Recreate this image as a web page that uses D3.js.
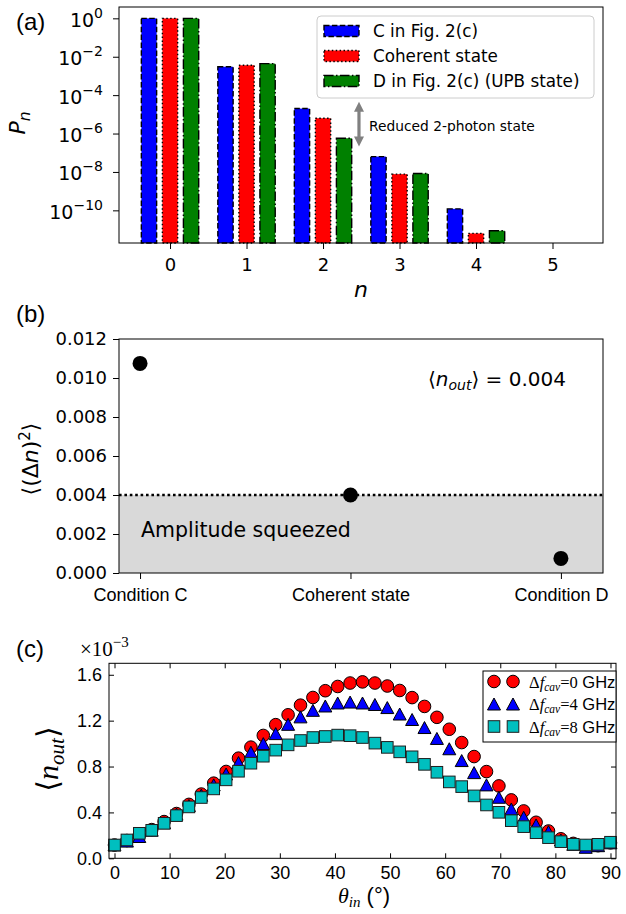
<!DOCTYPE html>
<html>
<head>
<meta charset="utf-8">
<script src="https://cdn.jsdelivr.net/npm/d3@7"></script>
<style>
  body { margin: 0; background: #fff; }
  svg { display: block; }
  .tick line { stroke: #000; }
  .domain { display: none; }
</style>
</head>
<body>
<div id="chart"></div>
<script>
// ---- panel (a): photon number distribution ----
const photonN = [0, 1, 2, 3, 4, 5];
const pnC = [0.996, 3.0e-3, 2.0e-5, 6.3e-8, 1.2e-10, 1e-13];
const pnCoherent = [0.996, 3.6e-3, 6.3e-6, 7.7e-9, 6.3e-12, 1e-15];
const pnUPB = [0.996, 4.4e-3, 5.7e-7, 8.3e-9, 8.7e-12, 1e-14];
const seriesNamesA = ["C in Fig. 2(c)", "Coherent state", "D in Fig. 2(c) (UPB state)"];
const logTicks = [1e0, 1e-2, 1e-4, 1e-6, 1e-8, 1e-10];

// ---- panel (b): photon number variance ----
const conditions = ["Condition C", "Coherent state", "Condition D"];
const variance = [0.01075, 0.0040, 0.00075];
const varTicks = [0, 0.002, 0.004, 0.006, 0.008, 0.010, 0.012];
const meanN = 0.004;

// ---- panel (c): <n_out> vs incident angle (x 1e-3) ----
const thetaIn = [0, 2.25, 4.5, 6.75, 9, 11.25, 13.5, 15.75, 18, 20.25, 22.5, 24.75, 27, 29.25,
  31.5, 33.75, 36, 38.25, 40.5, 42.75, 45, 47.25, 49.5, 51.75, 54, 56.25, 58.5, 60.75, 63,
  65.25, 67.5, 69.75, 72, 74.25, 76.5, 78.75, 81, 83.25, 85.5, 87.75, 90];
const nOut0 = [0.116, 0.155, 0.20, 0.25, 0.32, 0.39, 0.47, 0.56, 0.655, 0.757, 0.873, 0.969,
  1.071, 1.165, 1.251, 1.335, 1.402, 1.461, 1.498, 1.528, 1.538, 1.528, 1.502, 1.463, 1.401,
  1.324, 1.229, 1.125, 1.009, 0.887, 0.756, 0.631, 0.509, 0.413, 0.314, 0.238, 0.17, 0.13,
  0.105, 0.11, 0.135];
const nOut4 = [0.116, 0.15, 0.19, 0.245, 0.31, 0.385, 0.46, 0.55, 0.64, 0.735, 0.835, 0.925,
  1.0, 1.087, 1.168, 1.233, 1.29, 1.328, 1.354, 1.362, 1.354, 1.341, 1.314, 1.258, 1.21,
  1.14, 1.045, 0.955, 0.852, 0.747, 0.64, 0.532, 0.43, 0.358, 0.291, 0.232, 0.16, 0.122,
  0.096, 0.11, 0.135];
const nOut8 = [0.116, 0.160, 0.218, 0.244, 0.305, 0.372, 0.448, 0.530, 0.605, 0.684, 0.759,
  0.829, 0.890, 0.943, 0.989, 1.027, 1.053, 1.062, 1.074, 1.069, 1.053, 1.004, 0.967, 0.928,
  0.885, 0.819, 0.750, 0.666, 0.625, 0.544, 0.465, 0.401, 0.328, 0.276, 0.223, 0.180, 0.145,
  0.122, 0.116, 0.122, 0.140];
const detuning = ["0", "4", "8"];
const thetaTicks = [0, 10, 20, 30, 40, 50, 60, 70, 80, 90];
const nOutTicks = [0, 0.4, 0.8, 1.2, 1.6];

const SANS = "DejaVu Sans, sans-serif";
const ARIAL = "Liberation Sans, Arial, sans-serif";
const SERIF = "Liberation Serif, DejaVu Serif, serif";

const svg = d3.select("#chart").append("svg")
  .attr("width", 626).attr("height", 914);

function frame(g, x0, y0, x1, y1) {
  g.append("rect").attr("x", x0).attr("y", y0)
    .attr("width", x1 - x0).attr("height", y1 - y0)
    .attr("fill", "none").attr("stroke", "#000").attr("stroke-width", 1);
}

// ================= (a) =================
const A = {left: 119, right: 603, top: 7, bottom: 243};
const xa = d3.scaleLinear().domain([-0.667, 5.66]).range([A.left, A.right]);
const ya = d3.scaleLog().domain([Math.pow(10, -11.7), Math.pow(10, 0.59)]).range([A.bottom, A.top]);
const ga = svg.append("g");

const barStyles = [
  {fill: "#0000ff", dash: "5.5,2.4"},
  {fill: "#ff0000", dash: "1.5,2.4"},
  {fill: "#008000", dash: "9.6,2.4,1.5,2.4"}
];
const barOffset = [-0.275, 0, 0.275];
const barW = 0.2;
[pnC, pnCoherent, pnUPB].forEach((vals, i) => {
  ga.selectAll(null)
    .data(photonN.map((n, k) => ({n, v: vals[k]})).filter(d => d.v > ya.domain()[0]))
    .enter().append("rect")
    .attr("x", d => xa(d.n + barOffset[i] - barW / 2))
    .attr("width", xa(barW) - xa(0))
    .attr("y", d => ya(d.v))
    .attr("height", d => A.bottom - ya(d.v))
    .attr("fill", barStyles[i].fill)
    .attr("stroke", "#000").attr("stroke-width", 1.4)
    .attr("stroke-dasharray", barStyles[i].dash);
});

frame(ga, A.left, A.top, A.right, A.bottom);

const axLa = ga.append("g").attr("transform", `translate(${A.left},0)`)
  .call(d3.axisLeft(ya).tickValues(logTicks).tickSize(6).tickSizeOuter(0));
axLa.selectAll("text").each(function(d) {
  const t = d3.select(this).text("");
  const e = Math.round(Math.log10(d));
  t.attr("x", -16).attr("dy", null).attr("y", 8)
    .attr("font-family", SANS).attr("font-size", 19).attr("fill", "#000");
  t.append("tspan").text("10");
  t.append("tspan").attr("font-size", 14).attr("dy", -9)
    .text(e < 0 ? "\u2212" + (-e) : String(e));
});
const axBa = ga.append("g").attr("transform", `translate(0,${A.bottom})`)
  .call(d3.axisBottom(xa).tickValues(photonN).tickSize(6).tickSizeOuter(0).tickFormat(d3.format("d")));
axBa.selectAll("text").attr("dy", null).attr("y", 28)
  .attr("font-family", SANS).attr("font-size", 18).attr("fill", "#000");

// axis labels
ga.append("text").attr("transform", "translate(25,123) rotate(-90)")
  .attr("text-anchor", "middle").attr("font-family", SANS).attr("font-size", 22)
  .call(t => {
    t.append("tspan").attr("font-style", "italic").text("P");
    t.append("tspan").attr("font-style", "italic").attr("font-size", 15.5).attr("dy", 5).text("n");
  });
ga.append("text").attr("x", 361).attr("y", 297).attr("text-anchor", "middle")
  .attr("font-family", SANS).attr("font-size", 22).attr("font-style", "italic").text("n");

// legend (a)
const lga = ga.append("g");
lga.append("rect").attr("x", 317).attr("y", 16).attr("width", 277).attr("height", 82)
  .attr("rx", 4).attr("fill", "#fff").attr("fill-opacity", 0.8)
  .attr("stroke", "#cccccc").attr("stroke-width", 1);
seriesNamesA.forEach((name, i) => {
  const cy = 31 + i * 25;
  lga.append("rect").attr("x", 324).attr("y", cy - 5.5).attr("width", 35).attr("height", 11)
    .attr("fill", barStyles[i].fill).attr("stroke", "#000").attr("stroke-width", 1.4)
    .attr("stroke-dasharray", barStyles[i].dash);
  lga.append("text").attr("x", 373).attr("y", cy + 6)
    .attr("font-family", SANS).attr("font-size", 16.8).text(name);
});

// annotation arrow: reduced 2-photon state
const arrX = xa(2.47), arrY0 = ya(4.5e-5), arrY1 = ya(2.1e-7);
ga.append("line").attr("x1", arrX).attr("x2", arrX).attr("y1", arrY0 + 8).attr("y2", arrY1 - 8)
  .attr("stroke", "#808080").attr("stroke-width", 3.2);
ga.append("path").attr("d", `M${arrX},${arrY0} l5,10 l-10,0 Z`).attr("fill", "#808080");
ga.append("path").attr("d", `M${arrX},${arrY1} l5,-10 l-10,0 Z`).attr("fill", "#808080");
ga.append("text").attr("x", 369).attr("y", 131)
  .attr("font-family", SANS).attr("font-size", 13.8).text("Reduced 2-photon state");

ga.append("text").attr("x", 16).attr("y", 30).attr("font-family", ARIAL).attr("font-size", 24).text("(a)");

// ================= (b) =================
const B = {left: 119, right: 603, top: 339, bottom: 573};
const xb = d3.scaleLinear().domain([-0.1, 2.2]).range([B.left, B.right]);
const yb = d3.scaleLinear().domain([0, 0.012]).range([B.bottom, B.top]);
const gb = svg.append("g");

gb.append("rect").attr("x", B.left).attr("y", yb(meanN))
  .attr("width", B.right - B.left).attr("height", B.bottom - yb(meanN)).attr("fill", "#d9d9d9");
gb.append("line").attr("x1", B.left).attr("x2", B.right)
  .attr("y1", yb(meanN)).attr("y2", yb(meanN))
  .attr("stroke", "#000").attr("stroke-width", 2.6).attr("stroke-dasharray", "2.6,2.8");
gb.append("text").attr("x", 141).attr("y", 537)
  .attr("font-family", SANS).attr("font-size", 20.5).text("Amplitude squeezed");

gb.selectAll(null).data(variance).enter().append("circle")
  .attr("cx", (d, i) => xb(i)).attr("cy", d => yb(d)).attr("r", 7.5).attr("fill", "#000");

frame(gb, B.left, B.top, B.right, B.bottom);

const axLb = gb.append("g").attr("transform", `translate(${B.left},0)`)
  .call(d3.axisLeft(yb).tickValues(varTicks).tickSize(6).tickSizeOuter(0).tickFormat(d3.format(".3f")));
axLb.selectAll("text").attr("x", -12).attr("font-family", SANS).attr("font-size", 18).attr("fill", "#000");
const axBb = gb.append("g").attr("transform", `translate(0,${B.bottom})`)
  .call(d3.axisBottom(xb).tickValues([0, 1, 2]).tickSize(6).tickSizeOuter(0).tickFormat(i => conditions[i]));
axBb.selectAll("text").attr("dy", null).attr("y", 28)
  .attr("font-family", ARIAL).attr("font-size", 18).attr("fill", "#000");

gb.append("text").attr("x", 428).attr("y", 386).attr("font-family", SANS).attr("font-size", 20)
  .call(t => {
    t.append("tspan").text("\u27e8");
    t.append("tspan").attr("font-style", "italic").text("n");
    t.append("tspan").attr("font-style", "italic").attr("font-size", 14).attr("dy", 4).text("out");
    t.append("tspan").attr("dy", -4).text("\u27e9 = 0.004");
  });

gb.append("text").attr("transform", "translate(38,459) rotate(-90)")
  .attr("text-anchor", "middle").attr("font-family", SANS).attr("font-size", 22)
  .call(t => {
    t.append("tspan").text("\u27e8(\u0394");
    t.append("tspan").attr("font-style", "italic").text("n");
    t.append("tspan").text(")");
    t.append("tspan").attr("font-size", 15).attr("dy", -8).text("2");
    t.append("tspan").attr("dy", 8).text("\u27e9");
  });

gb.append("text").attr("x", 16).attr("y", 322).attr("font-family", ARIAL).attr("font-size", 24).text("(b)");

// ================= (c) =================
const C = {left: 109, right: 616, top: 663.3, bottom: 858.3};
const xc = d3.scaleLinear().domain([-1, 91]).range([C.left, C.right]);
const yc = d3.scaleLinear().domain([0, 1.7]).range([C.bottom, C.top]);
const gc = svg.append("g");

const triPath = "M0,-6 L6.5,6 L-6.5,6 Z";
const markerStyles = [
  {shape: "circle", fill: "#ff0000", stroke: "#000"},
  {shape: "triangle", fill: "#0000ff", stroke: "#000"},
  {shape: "square", fill: "#00bfbf", stroke: "#1e1e1e"}
];
function drawMarker(sel, shape, st) {
  if (shape === "circle") {
    sel.append("circle").attr("r", 6.3);
  } else if (shape === "triangle") {
    sel.append("path").attr("d", triPath);
  } else {
    sel.append("rect").attr("x", -5.8).attr("y", -5.8).attr("width", 11.6).attr("height", 11.6);
  }
  sel.selectAll("circle,path,rect").attr("fill", st.fill).attr("stroke", st.stroke).attr("stroke-width", 1);
}

[nOut0, nOut4, nOut8].forEach((vals, i) => {
  const st = markerStyles[i];
  gc.selectAll(null).data(thetaIn.map((t, k) => ({t, v: vals[k]}))).enter().append("g")
    .attr("transform", d => `translate(${xc(d.t)},${yc(d.v)})`)
    .each(function() { drawMarker(d3.select(this), st.shape, st); });
});

frame(gc, C.left, C.top, C.right, C.bottom);

const axLc = gc.append("g").attr("transform", `translate(${C.left},0)`)
  .call(d3.axisLeft(yc).tickValues(nOutTicks).tickSize(-5).tickSizeOuter(0).tickFormat(d3.format(".1f")));
axLc.selectAll("text").attr("x", -7).attr("font-family", ARIAL).attr("font-size", 18).attr("fill", "#000");
gc.append("g").attr("transform", `translate(${C.right},0)`)
  .call(d3.axisRight(yc).tickValues(nOutTicks).tickSize(-5).tickSizeOuter(0).tickFormat(""));
const axBc = gc.append("g").attr("transform", `translate(0,${C.bottom})`)
  .call(d3.axisBottom(xc).tickValues(thetaTicks).tickSize(-5).tickSizeOuter(0).tickFormat(d3.format("d")));
axBc.selectAll("text").attr("dy", null).attr("y", 21)
  .attr("font-family", ARIAL).attr("font-size", 18).attr("fill", "#000");
gc.append("g").attr("transform", `translate(0,${C.top})`)
  .call(d3.axisTop(xc).tickValues(thetaTicks).tickSize(-5).tickSizeOuter(0).tickFormat(""));

// offset text
gc.append("text").attr("x", 80).attr("y", 656).attr("font-family", SERIF).attr("font-size", 21)
  .call(t => {
    t.append("tspan").text("\u00d710");
    t.append("tspan").attr("font-size", 15).attr("dy", -9).text("\u22123");
  });

// legend (c)
const lgc = gc.append("g");
lgc.append("rect").attr("x", 483).attr("y", 671).attr("width", 133).attr("height", 71)
  .attr("fill", "#fff").attr("stroke", "#000").attr("stroke-width", 1);
detuning.forEach((dv, i) => {
  const cy = 681.5 + i * 22.5;
  [494, 513].forEach(mx => {
    const m = lgc.append("g").attr("transform", `translate(${mx},${cy})`);
    drawMarker(m, markerStyles[i].shape, markerStyles[i]);
  });
  lgc.append("text").attr("x", 529).attr("y", cy + 6).attr("font-size", 16.5)
    .call(t => {
      t.append("tspan").attr("font-family", SERIF).text("\u0394");
      t.append("tspan").attr("font-family", SERIF).attr("font-style", "italic").text("f");
      t.append("tspan").attr("font-family", SERIF).attr("font-style", "italic")
        .attr("font-size", 11.5).attr("dy", 3).text("cav");
      t.append("tspan").attr("font-family", SERIF).attr("dy", -3).text("=" + dv);
      t.append("tspan").attr("font-family", ARIAL).text(" GHz");
    });
});

// axis labels (c)
gc.append("text").attr("transform", "translate(58,759) rotate(-90)")
  .attr("text-anchor", "middle").attr("font-family", SERIF).attr("font-size", 30)
  .call(t => {
    t.append("tspan").text("\u27e8");
    t.append("tspan").attr("font-style", "italic").text("n");
    t.append("tspan").attr("font-style", "italic").attr("font-size", 21).attr("dy", 6).text("out");
    t.append("tspan").attr("dy", -6).text("\u27e9");
  });
gc.append("text").attr("x", 364).attr("y", 903).attr("text-anchor", "middle").attr("font-size", 22)
  .call(t => {
    t.append("tspan").attr("font-family", SERIF).attr("font-style", "italic").text("\u03b8");
    t.append("tspan").attr("font-family", SERIF).attr("font-style", "italic")
      .attr("font-size", 15).attr("dy", 4).text("in");
    t.append("tspan").attr("font-family", ARIAL).attr("dy", -4).text(" (\u00b0)");
  });

gc.append("text").attr("x", 16).attr("y", 657).attr("font-family", ARIAL).attr("font-size", 24).text("(c)");
</script>
</body>
</html>
